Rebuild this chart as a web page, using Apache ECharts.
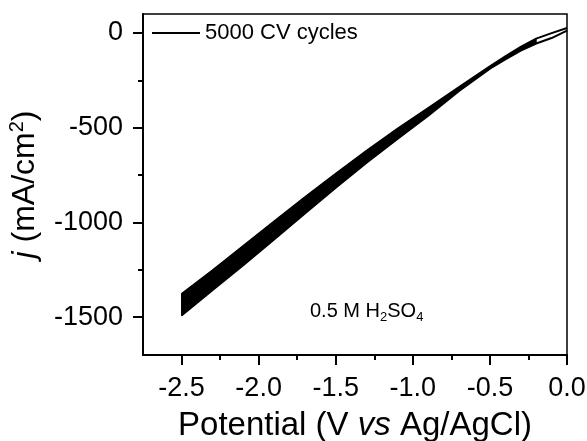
<!DOCTYPE html>
<html>
<head>
<meta charset="utf-8">
<script src="https://cdn.jsdelivr.net/npm/echarts@6/dist/echarts.min.js"></script>
<style>
  html, body { margin: 0; padding: 0; background: #fff; }
  #chart { width: 587px; height: 441px; }
</style>
</head>
<body>
<div id="chart"></div>
<script>
// Potential sweep points (V vs Ag/AgCl)
const potential = [-2.5, -2.3, -2.1, -1.9, -1.7, -1.5, -1.3, -1.1, -0.9, -0.7, -0.5, -0.4, -0.3, -0.2, -0.1, 0.0];
// Envelope of the 5000 overlapping CV cycles (mA/cm2): least and most cathodic current
const upperJ = [-1378, -1254, -1125, -995, -867, -743, -622, -506, -396, -286, -176, -124, -74, -30, -1, 26];
const lowerJ = [-1492, -1358, -1226, -1090, -953, -817, -685, -560, -437, -306, -189, -139, -93, -56, -27, 12];

// Axis ticks
const xMajorTicks = [-2.5, -2.0, -1.5, -1.0, -0.5, 0.0];
const xMinorTicks = [-2.25, -1.75, -1.25, -0.75, -0.25];
const yMajorTicks = [-1500, -1000, -500, 0];
const yMinorTicks = [-1250, -750, -250];

const seriesName = '5000 CV cycles';
const FONT = '"Liberation Sans", Arial, sans-serif';
// the solid band runs up to this index; beyond it the two sweeps open into a loop
const bandEnd = 13;

const chart = echarts.init(document.getElementById('chart'), null, { renderer: 'canvas' });

const xRange = { min: -2.75, max: 0 };
const yRange = { min: -1700, max: 100 };

function pairs(ys) { return potential.map((x, i) => [x, ys[i]]); }

const option = {
  animation: false,
  backgroundColor: '#fff',
  grid: { left: 143, right: 20, top: 14, bottom: 86, outerBoundsMode: 'none',
    show: true, borderColor: '#000', borderWidth: 1.5 },
  legend: {
    data: [seriesName],
    left: 152, top: 22, padding: 0,
    icon: 'rect', itemWidth: 48, itemHeight: 2,
    selectedMode: false,
    textStyle: { fontFamily: FONT, fontSize: 22, color: '#000' }
  },
  xAxis: [
    {
      type: 'value', ...xRange, position: 'bottom',
      name: 'Potential (V {i|vs} Ag/AgCl)',
      nameLocation: 'middle', nameGap: 54,
      nameTextStyle: { fontFamily: FONT, fontSize: 33, color: '#000',
        rich: { i: { fontFamily: FONT, fontSize: 33, fontStyle: 'italic', color: '#000' } } },
      axisLine: { show: true, onZero: false, lineStyle: { color: '#000', width: 2 } },
      axisTick: { show: true, customValues: xMajorTicks, length: 10, lineStyle: { color: '#000', width: 2 } },
      axisLabel: { show: true, customValues: xMajorTicks, margin: 20, fontFamily: FONT, fontSize: 27, color: '#000',
        formatter: v => v.toFixed(1) },
      splitLine: { show: false }
    },
    {
      type: 'value', ...xRange, position: 'bottom',
      axisLine: { show: false, onZero: false },
      axisTick: { show: true, customValues: xMinorTicks, length: 5, lineStyle: { color: '#000', width: 2 } },
      axisLabel: { show: false },
      splitLine: { show: false }
    }
  ],
  yAxis: [
    {
      type: 'value', ...yRange, position: 'left',
      name: '{i|j} (mA/cm{sup|2})',
      nameLocation: 'middle', nameGap: 95, nameRotate: 90,
      nameTextStyle: { fontFamily: FONT, fontSize: 32, color: '#000', lineHeight: 36,
        rich: {
          i: { fontFamily: FONT, fontSize: 32, fontStyle: 'italic', color: '#000', lineHeight: 36 },
          sup: { fontFamily: FONT, fontSize: 20, color: '#000', verticalAlign: 'top', lineHeight: 22 }
        } },
      axisLine: { show: true, onZero: false, lineStyle: { color: '#000', width: 2 } },
      axisTick: { show: true, customValues: yMajorTicks, length: 10, lineStyle: { color: '#000', width: 2 } },
      axisLabel: { show: true, customValues: yMajorTicks, margin: 20, fontFamily: FONT, fontSize: 27, color: '#000',
        formatter: v => String(v) },
      splitLine: { show: false }
    },
    {
      type: 'value', ...yRange, position: 'left',
      axisLine: { show: false, onZero: false },
      axisTick: { show: true, customValues: yMinorTicks, length: 5, lineStyle: { color: '#000', width: 2 } },
      axisLabel: { show: false },
      splitLine: { show: false }
    }
  ],
  graphic: [
    {
      type: 'text', x: 310, y: 311,
      style: {
        text: '0.5 M H{s|2}SO{s|4}',
        fontFamily: FONT, fontSize: 20, fill: '#000', lineHeight: 26,
        verticalAlign: 'middle',
        rich: { s: { fontFamily: FONT, fontSize: 13, fill: '#000', lineHeight: 14, verticalAlign: 'bottom' } }
      }
    }
  ],
  series: [
    {
      // filled band between the two envelopes
      name: 'band', type: 'custom', xAxisIndex: 0, yAxisIndex: 0,
      data: [[potential[0], upperJ[0]]],
      encode: { x: 0, y: 1 },
      silent: true,
      renderItem: function (params, api) {
        const pts = [];
        for (let i = 0; i <= bandEnd; i++) pts.push(api.coord([potential[i], upperJ[i]]));
        for (let i = bandEnd; i >= 0; i--) pts.push(api.coord([potential[i], lowerJ[i]]));
        return { type: 'polygon', shape: { points: pts }, style: { fill: '#000', stroke: '#000', lineWidth: 1 } };
      },
      z: 2
    },
    {
      name: seriesName, type: 'line', xAxisIndex: 0, yAxisIndex: 0,
      data: pairs(upperJ), showSymbol: false, symbol: 'none',
      lineStyle: { color: '#000', width: 2 }, itemStyle: { color: '#000' }, z: 3
    },
    {
      name: 'lower', type: 'line', xAxisIndex: 0, yAxisIndex: 0,
      data: pairs(lowerJ), showSymbol: false, symbol: 'none',
      lineStyle: { color: '#000', width: 2 }, itemStyle: { color: '#000' }, z: 3
    }
  ]
};

chart.setOption(option);
</script>
</body>
</html>
